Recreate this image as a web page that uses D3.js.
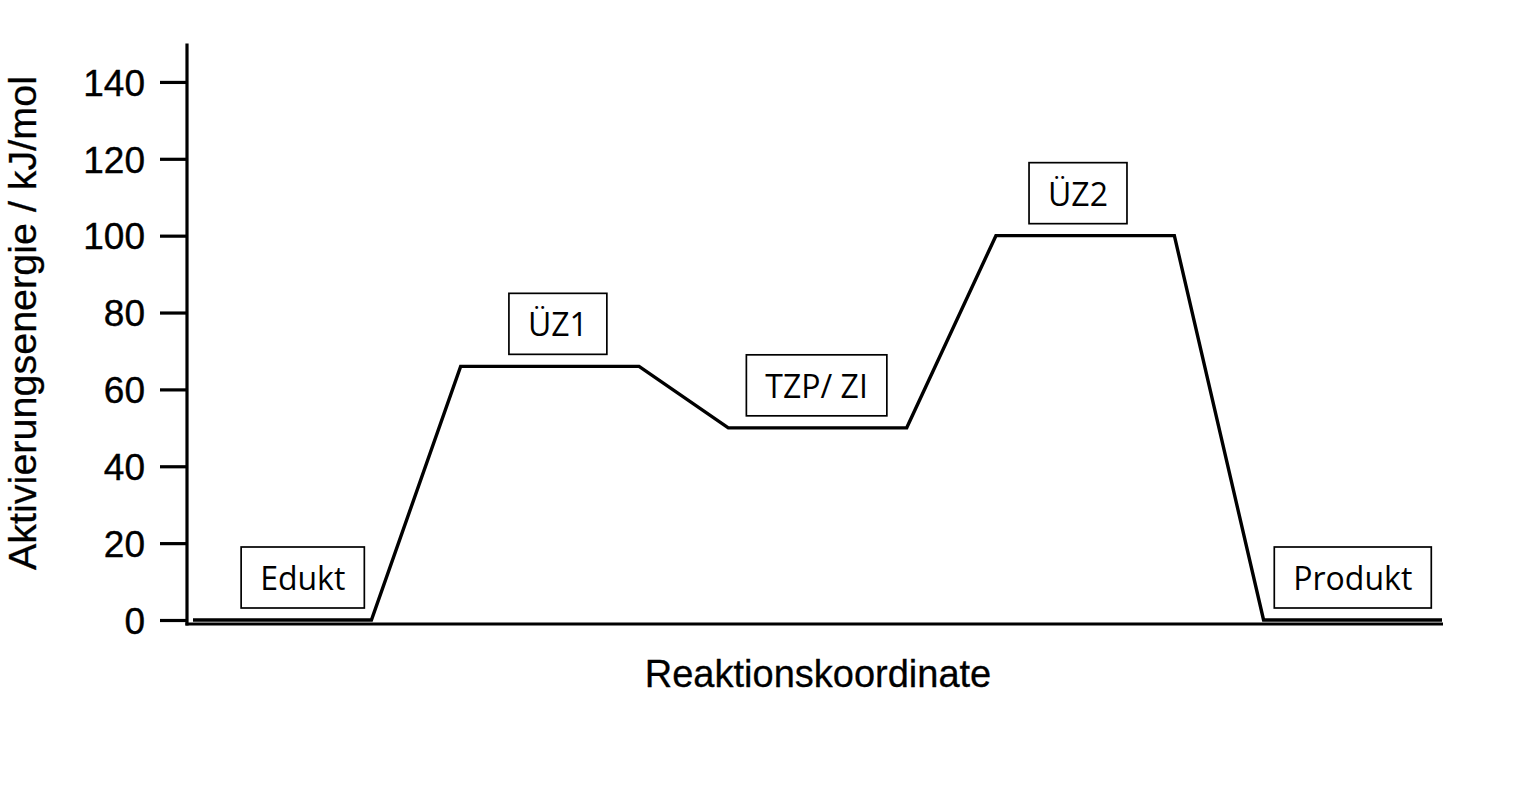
<!DOCTYPE html>
<html>
<head>
<meta charset="utf-8">
<script src="https://cdn.jsdelivr.net/npm/d3@7"></script>
<style>
  html, body { margin: 0; padding: 0; background: #fff; }
  svg { display: block; }
</style>
</head>
<body>
<script>
// ---- data ----
const reactionCoord = [0, 2, 3, 5, 6, 8, 9, 11, 12, 14];
const energy        = [0, 0, 66, 66, 50, 50, 100, 100, 0, 0];
const stateLabels   = ["Edukt", "ÜZ1", "TZP/ ZI", "ÜZ2", "Produkt"];
const stateCoord    = [1.23, 4.09, 6.99, 9.92, 13.0];
const stateEnergy   = [0, 66, 50, 100, 0];
const yTicks        = [0, 20, 40, 60, 80, 100, 120, 140];
const xTitle = "Reaktionskoordinate";
const yTitle = "Aktivierungsenergie / kJ/mol";

// ---- layout ----
const W = 1531, H = 808;
const svg = d3.select("body").append("svg").attr("width", W).attr("height", H);

const x = d3.scaleLinear().domain([0, 14]).range([193, 1442]);
const y = d3.scaleLinear().domain([0, 150]).range([620, 43.5]);
const axisX = 187, axisY = 624;
const sansA = "'Liberation Sans', Arial, sans-serif";

// y axis
const yAxis = d3.axisLeft(y).tickValues(yTicks).tickSize(27).tickPadding(15).tickSizeOuter(0);
const gy = svg.append("g").attr("transform", `translate(${axisX},0)`).call(yAxis);
gy.select(".domain").remove();
gy.selectAll(".tick line").attr("stroke", "#000").attr("stroke-width", 3.2);
gy.selectAll(".tick text")
  .attr("font-family", sansA)
  .attr("font-size", 37).attr("fill", "#000")
  .attr("stroke", "#000").attr("stroke-width", 0.4)
  .attr("dy", "0.36em");

svg.append("line").attr("x1", axisX).attr("x2", axisX)
  .attr("y1", y(150)).attr("y2", axisY + 1.6)
  .attr("stroke", "#000").attr("stroke-width", 3.2);

// x axis
svg.append("line").attr("x1", axisX - 1.6).attr("x2", 1443)
  .attr("y1", axisY).attr("y2", axisY)
  .attr("stroke", "#000").attr("stroke-width", 3.2);

// energy profile
const line = d3.line().x((d, i) => x(reactionCoord[i])).y((d, i) => y(energy[i]));
svg.append("path").datum(energy).attr("d", line)
  .attr("fill", "none").attr("stroke", "#000").attr("stroke-width", 3.4)
  .attr("stroke-linejoin", "miter");

// state boxes
const boxH = 61, padX = 19, gap = 12;
stateLabels.forEach((lab, i) => {
  const g = svg.append("g");
  const cx = x(stateCoord[i]);
  const bottom = y(stateEnergy[i]) - gap;
  const rect = g.append("rect");
  const t = g.append("text").text(lab)
    .attr("x", cx).attr("y", bottom - 18)
    .attr("text-anchor", "middle")
    .attr("font-family", "'Open Sans', sans-serif")
    .attr("font-size", 32).attr("fill", "#000");
  const bw = t.node().getComputedTextLength() + 2 * padX;
  rect.attr("x", cx - bw / 2).attr("y", bottom - boxH)
    .attr("width", bw).attr("height", boxH)
    .attr("fill", "#fff").attr("stroke", "#000").attr("stroke-width", 1.7);
});

// titles
svg.append("text").text(xTitle)
  .attr("x", 818).attr("y", 687).attr("text-anchor", "middle")
  .attr("font-family", sansA)
  .attr("font-size", 38).attr("fill", "#000")
  .attr("stroke", "#000").attr("stroke-width", 0.3);

svg.append("text").text(yTitle)
  .attr("transform", "translate(36,323) rotate(-90)")
  .attr("text-anchor", "middle")
  .attr("font-family", sansA)
  .attr("font-size", 39.5).attr("fill", "#000")
  .attr("stroke", "#000").attr("stroke-width", 0.3);
</script>
</body>
</html>
